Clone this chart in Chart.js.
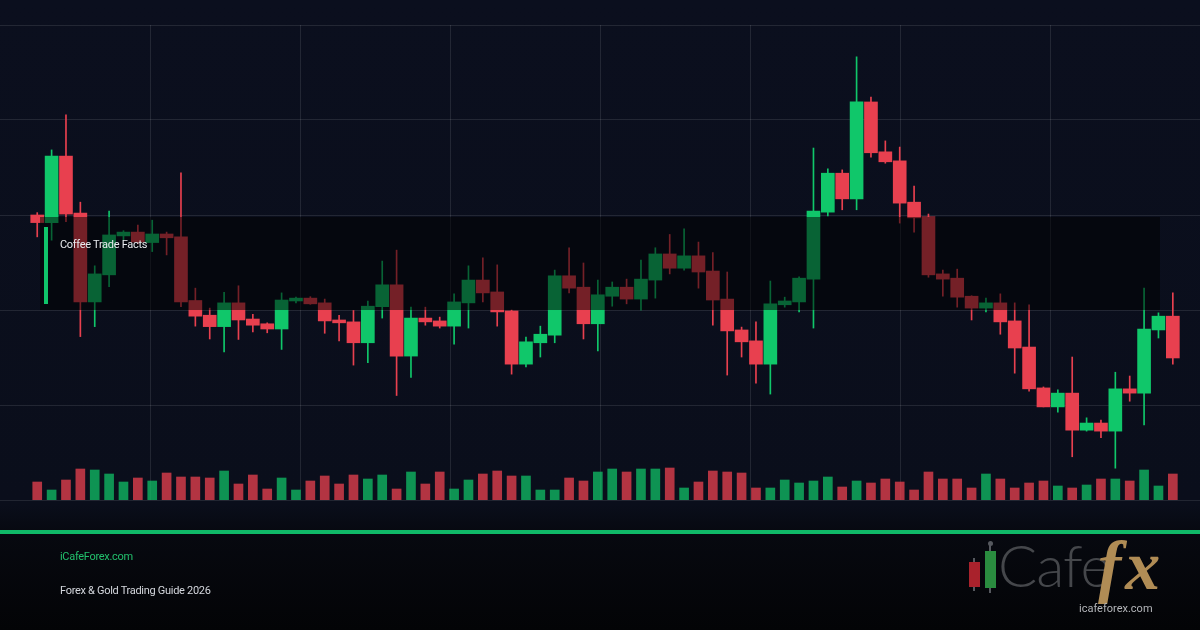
<!DOCTYPE html>
<html>
<head>
<meta charset="utf-8">
<title>Coffee Trade Facts</title>
<script src="https://cdn.jsdelivr.net/npm/chart.js@4.4.0/dist/chart.umd.min.js"></script>
<style>
  html, body { margin: 0; padding: 0; }
  body {
    width: 1200px; height: 630px; overflow: hidden; position: relative;
    background: linear-gradient(180deg, #0b0f1e 0%, #0a0e1b 80%, #070910 84.5%, #030406 100%);
    font-family: Roboto, "Liberation Sans", Arial, sans-serif;
  }
  #chart { position: absolute; left: 0; top: 0; }
  .facts { position: absolute; left: 40px; top: 217px; width: 1120px; height: 93px; background: rgba(0, 0, 0, 0.5); }
  .facts .accent { position: absolute; left: 4px; top: 10px; width: 4px; height: 77px; background: #10c46a; }
  .facts .label { position: absolute; left: 20px; top: 21px; font-size: 11px; line-height: 13px; letter-spacing: -0.3px; color: #e8eaee; }
  .rule { position: absolute; left: 0; top: 530px; width: 1200px; height: 4px; background: #10b968; }
  .site { position: absolute; left: 60px; top: 550px; font-size: 11px; line-height: 13px; letter-spacing: -0.3px; color: #22c06c; }
  .guide { position: absolute; left: 60px; top: 584px; font-size: 11px; line-height: 13px; letter-spacing: -0.3px; color: #d4d7dd; }
  .logo { position: absolute; left: 960px; top: 538px; width: 230px; height: 80px; }
  .logo .wick { position: absolute; width: 2px; background: #55585e; }
  .logo .dot { position: absolute; width: 5px; height: 5px; border-radius: 50%; background: #55585e; }
  .logo .body { position: absolute; width: 11px; }
  .logo .cafe { position: absolute; left: 38px; top: -8px; font-family: Lato, "DejaVu Sans", sans-serif; font-weight: 300; font-size: 58px; color: #45474b; letter-spacing: -1px; }
  .logo .fx { position: absolute; left: 138px; top: -12px; font-family: "Liberation Serif", "DejaVu Serif", serif; font-style: italic; font-weight: bold; font-size: 70px; letter-spacing: 4px; color: #b08c55; }
  .logo .url { position: absolute; left: 119px; top: 64px; font-size: 11px; color: #b4b6ba; }
</style>
</head>
<body>
<canvas id="chart" width="1200" height="630"></canvas>

<div class="facts">
  <div class="accent"></div>
  <div class="label">Coffee Trade Facts</div>
</div>

<div class="rule"></div>
<div class="site">iCafeForex.com</div>
<div class="guide">Forex &amp; Gold Trading Guide 2026</div>

<div class="logo">
  <div class="wick" style="left:13px; top:20px; height:33px;"></div>
  <div class="body" style="left:9px; top:24px; height:25px; background:#a9222c;"></div>
  <div class="wick" style="left:29px; top:5px; height:50px;"></div>
  <div class="dot" style="left:27.5px; top:3px;"></div>
  <div class="body" style="left:25px; top:13px; height:37px; background:#2a8c3f;"></div>
  <div class="cafe">Cafe</div>
  <div class="fx">fx</div>
  <div class="url">icafeforex.com</div>
</div>

<script>
  // daily candles, oldest first
  const open = [
    160.0, 158.4, 172.4, 160.4, 141.7, 147.4, 155.6, 156.4, 154.2, 156.0,
    155.4, 142.0, 138.9, 136.5, 141.5, 138.1, 137.1, 136.0, 141.9, 142.5,
    141.5, 137.9, 137.5, 133.1, 140.7, 145.3, 130.3, 138.3, 137.7, 136.6,
    141.5, 146.3, 143.8, 139.8, 128.6, 133.1, 134.7, 147.2, 144.8, 137.1,
    142.9, 144.8, 142.3, 146.3, 151.8, 148.8, 151.4, 148.2, 142.3, 135.8,
    133.5, 128.6, 141.1, 141.7, 146.5, 160.6, 168.8, 163.4, 183.8, 173.3,
    171.4, 162.7, 159.6, 147.6, 146.7, 142.9, 140.4, 141.5, 137.7, 132.2,
    123.6, 119.6, 122.5, 114.7, 116.2, 114.5, 123.4, 122.5, 135.8, 138.7
  ];
  const close = [
    158.4, 172.4, 160.2, 141.7, 147.6, 155.8, 156.4, 154.3, 156.0, 155.2,
    141.7, 138.7, 136.5, 141.5, 137.9, 136.8, 136.0, 142.1, 142.5, 141.3,
    137.7, 137.3, 133.1, 140.8, 145.3, 130.3, 138.3, 137.5, 136.6, 141.7,
    146.3, 143.6, 139.6, 128.6, 133.3, 134.9, 147.2, 144.6, 137.1, 143.2,
    144.8, 142.3, 146.5, 151.8, 148.8, 151.4, 148.0, 142.1, 135.6, 133.3,
    128.6, 141.3, 141.9, 146.7, 160.8, 168.8, 163.4, 183.8, 173.1, 171.2,
    162.5, 159.4, 147.4, 146.5, 142.7, 140.4, 141.5, 137.5, 132.0, 123.4,
    119.6, 122.5, 114.7, 116.2, 114.5, 123.4, 122.5, 136.0, 138.7, 129.9
  ];
  const high = [
    160.5, 173.7, 181.1, 162.7, 149.3, 160.8, 156.7, 157.9, 158.9, 156.4,
    168.9, 144.6, 140.4, 143.7, 145.1, 139.1, 137.3, 143.6, 142.7, 142.8,
    142.3, 138.9, 139.9, 141.9, 150.3, 152.6, 140.6, 140.6, 138.5, 143.4,
    149.3, 151.0, 149.5, 140.0, 134.3, 136.6, 148.4, 153.1, 149.9, 146.3,
    145.9, 146.5, 150.5, 153.1, 155.9, 157.1, 154.3, 152.1, 148.0, 136.4,
    137.5, 146.1, 142.7, 147.0, 174.1, 169.7, 169.5, 193.3, 184.8, 175.6,
    174.3, 166.1, 160.2, 148.4, 148.6, 143.0, 142.5, 143.4, 141.5, 141.1,
    123.8, 123.2, 130.1, 117.3, 116.8, 126.9, 126.1, 144.6, 139.4, 143.6
  ];
  const low = [
    155.4, 154.7, 158.6, 134.4, 136.5, 144.9, 154.7, 153.9, 152.3, 151.6,
    140.7, 136.6, 133.9, 131.2, 133.8, 135.4, 135.2, 131.7, 141.5, 141.2,
    135.1, 133.5, 128.4, 128.9, 138.3, 122.0, 125.8, 136.8, 136.2, 132.8,
    136.2, 141.7, 136.6, 126.5, 128.0, 130.1, 133.1, 143.6, 133.9, 131.4,
    140.8, 141.3, 140.0, 142.5, 147.6, 148.4, 144.6, 136.8, 126.3, 130.1,
    124.6, 122.3, 140.6, 139.6, 136.2, 159.8, 161.1, 161.1, 172.2, 170.9,
    158.3, 156.4, 146.9, 142.9, 140.6, 137.9, 139.6, 134.9, 126.7, 122.9,
    119.6, 118.5, 109.1, 114.5, 113.1, 106.7, 120.8, 115.8, 134.1, 128.6
  ];
  // thousand lots
  const volume = [
    18, 10, 20, 31, 30, 26, 18, 22, 19, 27,
    23, 23, 22, 29, 16, 25, 11, 22, 10, 19,
    24, 16, 25, 21, 25, 11, 28, 16, 28, 11,
    20, 26, 29, 24, 24, 10, 10, 22, 19, 28,
    31, 28, 31, 31, 32, 12, 18, 29, 28, 27,
    12, 12, 20, 17, 19, 23, 13, 19, 17, 21,
    18, 10, 28, 21, 21, 12, 26, 21, 12, 17,
    19, 14, 12, 15, 21, 21, 19, 30, 14, 26
  ];
  const priceTicks = { min: 100, max: 200, step: 20 };
  const gridColumns = 8;

  const UP = "#10c76a";
  const DOWN = "#e8404f";
  const UP_VOL = "rgba(16,199,106,0.72)";
  const DOWN_VOL = "rgba(232,64,79,0.76)";
  const GRID = "rgba(255,255,255,0.10)";

  const isUp = open.map((o, i) => close[i] >= o);
  const candleColor = isUp.map(u => u ? UP : DOWN);

  const bodies = open.map((o, i) => ({ x: i, y: [o, close[i]] }));
  const wicks = low.map((l, i) => ({ x: i, y: [l, high[i]] }));
  const vols = volume.map((v, i) => ({ x: i, y: v }));

  new Chart(document.getElementById("chart"), {
    type: "bar",
    data: {
      datasets: [
        {
          label: "Body",
          data: bodies,
          backgroundColor: candleColor,
          barThickness: 13,
          borderWidth: 0,
          grouped: false,
          order: 1,
          yAxisID: "y"
        },
        {
          label: "Wick",
          data: wicks,
          backgroundColor: candleColor,
          barThickness: 1,
          borderWidth: 0,
          grouped: false,
          order: 2,
          yAxisID: "y"
        },
        {
          label: "Volume",
          data: vols,
          backgroundColor: isUp.map(u => u ? UP_VOL : DOWN_VOL),
          barThickness: 9,
          borderWidth: 0,
          grouped: false,
          order: 3,
          yAxisID: "yv"
        }
      ]
    },
    options: {
      responsive: false,
      devicePixelRatio: 1,
      animation: false,
      events: [],
      layout: { padding: { top: 25, bottom: 130, left: 0, right: 0 } },
      plugins: { legend: { display: false }, tooltip: { enabled: false } },
      scales: {
        x: {
          type: "linear",
          offset: false,
          min: -2.59,
          max: 80.89,
          grid: { offset: false },
          display: false
        },
        xg: {
          type: "linear",
          position: "bottom",
          offset: false,
          min: 0,
          max: gridColumns,
          ticks: { display: false, stepSize: 1 },
          grid: {
            offset: false,
            drawTicks: false,
            color: ctx => (ctx.tick && (ctx.tick.value === 0 || ctx.tick.value === gridColumns)) ? "rgba(0,0,0,0)" : GRID
          },
          border: { display: false }
        },
        y: {
          type: "linear",
          position: "left",
          min: priceTicks.min,
          max: priceTicks.max,
          ticks: { display: false, stepSize: priceTicks.step },
          grid: { drawTicks: false, color: GRID },
          border: { display: false }
        },
        yv: {
          type: "linear",
          position: "right",
          min: 0,
          max: 475,
          display: false
        }
      }
    }
  });
</script>
</body>
</html>
